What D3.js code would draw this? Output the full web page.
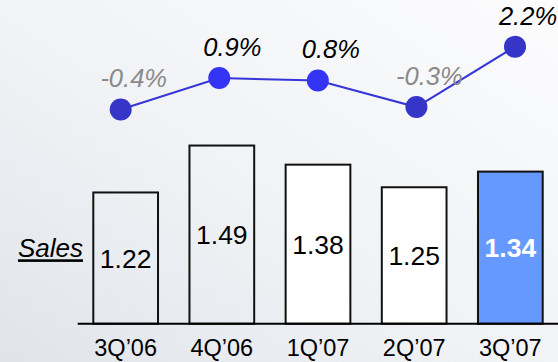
<!DOCTYPE html>
<html>
<head>
<meta charset="utf-8">
<script src="https://cdn.jsdelivr.net/npm/d3@7"></script>
<style>
  html, body { margin: 0; padding: 0; }
  body { width: 558px; height: 362px; overflow: hidden; }
  text { font-family: "Liberation Sans", Arial, sans-serif; }
</style>
</head>
<body>
<svg id="chart" width="558" height="362"></svg>
<script>
// ---- data ----
const categories = ["3Q\u201906", "4Q\u201906", "1Q\u201907", "2Q\u201907", "3Q\u201907"];
const sales = [1.22, 1.49, 1.38, 1.25, 1.34];
const growth = [-0.4, 0.9, 0.8, -0.3, 2.2];
const growthLabels = ["-0.4%", "0.9%", "0.8%", "-0.3%", "2.2%"];
const seriesName = "Sales";

// ---- drawing ----
const W = 558, H = 362;
const svg = d3.select("#chart");

const defs = svg.append("defs");
const grad = defs.append("linearGradient").attr("id", "bg")
  .attr("x1", "0").attr("y1", "1").attr("x2", "1").attr("y2", "0");
grad.append("stop").attr("offset", "0").attr("stop-color", "#e0e4ea");
grad.append("stop").attr("offset", "0.45").attr("stop-color", "#f0f2f5");
grad.append("stop").attr("offset", "1").attr("stop-color", "#fcfcfd");
svg.append("rect").attr("width", W).attr("height", H).attr("fill", "url(#bg)");

const baseY = 323.7;
const x = d3.scaleBand().domain(categories).range([93.3, 542.7]).paddingInner(0.327).paddingOuter(0);
const y = d3.scaleLinear().domain([0.465, 1.5]).range([baseY, 143.8]);

const xl = d3.scalePoint().domain(categories).range([120.7, 515]);
const yl = d3.scaleLinear().domain([-0.5, 2.5]).range([111.9, 39.4]);

const barFill = i => i === 4 ? "#6699ff" : (i >= 2 ? "#ffffff" : "none");

// bars
svg.append("g").selectAll("rect").data(sales).join("rect")
  .attr("x", (d, i) => x(categories[i]))
  .attr("y", d => y(d))
  .attr("width", x.bandwidth())
  .attr("height", d => baseY - y(d))
  .attr("fill", (d, i) => barFill(i))
  .attr("stroke", "#111")
  .attr("stroke-width", 2);

// bar labels
svg.append("g").selectAll("text").data(sales).join("text")
  .attr("x", (d, i) => x(categories[i]) + x.bandwidth() / 2)
  .attr("y", d => (y(d) + baseY) / 2)
  .attr("dy", "0.36em")
  .attr("text-anchor", "middle")
  .attr("font-size", 26.5)
  .attr("font-weight", (d, i) => i === 4 ? "bold" : "normal")
  .attr("fill", (d, i) => i === 4 ? "#ffffff" : "#000000")
  .text(d => d.toFixed(2));

// x axis
const axis = svg.append("g").attr("transform", `translate(0,${baseY})`)
  .call(d3.axisBottom(x).tickSize(0));
axis.select(".domain").remove();
axis.selectAll("text")
  .attr("y", 32.3).attr("dy", 0)
  .attr("font-size", 23.5)
  .attr("fill", "#000")
  .style("font-family", "'Liberation Sans', Arial, sans-serif");
svg.append("line").attr("x1", 77.7).attr("x2", W).attr("y1", baseY).attr("y2", baseY)
  .attr("stroke", "#000").attr("stroke-width", 2);

// series label
svg.append("text").attr("x", 83).attr("y", 257.3)
  .attr("text-anchor", "end")
  .attr("font-size", 26).attr("font-style", "italic")
  .attr("text-decoration", "underline")
  .attr("fill", "#000")
  .text(seriesName);

// growth line
const line = d3.line().x((d, i) => xl(categories[i])).y(d => yl(d));
svg.append("path").datum(growth).attr("d", line)
  .attr("fill", "none").attr("stroke", "#3636d8").attr("stroke-width", 2);

const pointColor = (d, i) => (i === 1 || i === 2) ? "#3434f6" : "#3535c8";
svg.append("g").selectAll("circle").data(growth).join("circle")
  .attr("cx", (d, i) => xl(categories[i]))
  .attr("cy", d => yl(d))
  .attr("r", 11)
  .attr("fill", pointColor);

svg.append("g").selectAll("text").data(growth).join("text")
  .attr("x", (d, i) => xl(categories[i]) + 13)
  .attr("y", d => yl(d) - 22)
  .attr("text-anchor", "middle")
  .attr("font-size", 25.5).attr("font-style", "italic")
  .attr("fill", d => d < 0 ? "#8a8a8a" : "#000")
  .text((d, i) => growthLabels[i]);
</script>
</body>
</html>
